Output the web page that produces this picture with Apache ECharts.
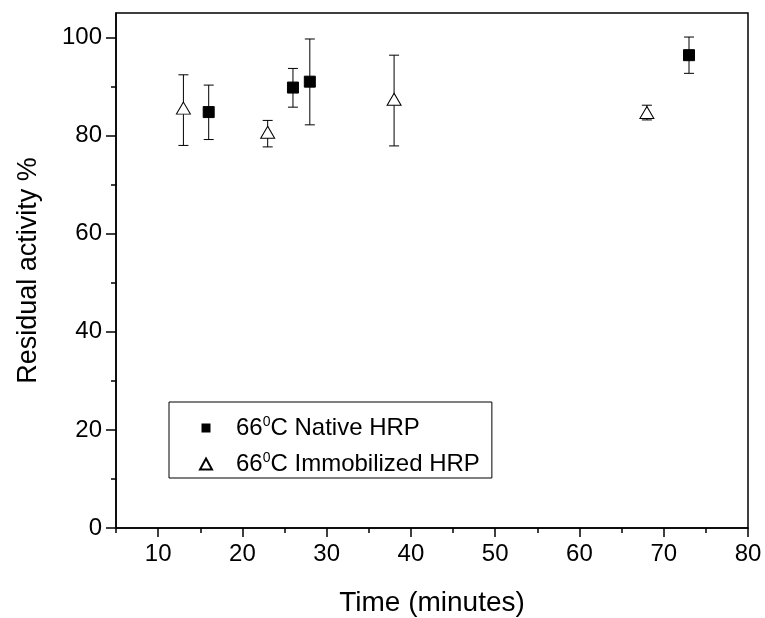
<!DOCTYPE html>
<html>
<head>
<meta charset="utf-8">
<script src="https://cdn.jsdelivr.net/npm/echarts@6/dist/echarts.min.js"></script>
<style>
html,body{margin:0;padding:0;background:#fff;}
#main{width:765px;height:618px;}
</style>
</head>
<body>
<div id="main"></div>
<script>
// ---- data ----
const nativeName = '66\u2070C Native HRP';
const immobName = '66\u2070C Immobilized HRP';
const nativeX = [16, 26, 28, 73];
const nativeY = [84.8, 89.8, 91.0, 96.4];
const nativeLow = [79.2, 85.8, 82.2, 92.7];
const nativeHigh = [90.3, 93.7, 99.7, 100.1];
const immobX = [13, 23, 38, 68];
const immobY = [85.6, 80.7, 87.4, 84.7];
const immobLow = [78.0, 77.7, 77.9, 83.2];
const immobHigh = [92.4, 83.1, 96.4, 86.2];
const xMajorTicks = [10, 20, 30, 40, 50, 60, 70, 80];
const xMinorTicks = [5, 15, 25, 35, 45, 55, 65, 75];
const yMajorTicks = [0, 20, 40, 60, 80, 100];
const yMinorTicks = [10, 30, 50, 70, 90];

const FONT = 'Arial, "Liberation Sans", sans-serif';

function pts(xs, ys) { return xs.map((x, i) => [x, ys[i]]); }
function errs(xs, lo, hi) { return xs.map((x, i) => [x, lo[i], hi[i]]); }

function errRender(params, api) {
  const x = api.value(0);
  const p1 = api.coord([x, api.value(1)]);
  const p2 = api.coord([x, api.value(2)]);
  const hw = 5;
  const st = { stroke: '#000', lineWidth: 1 };
  return {
    type: 'group',
    children: [
      { type: 'line', shape: { x1: p1[0], y1: p1[1], x2: p2[0], y2: p2[1] }, style: st },
      { type: 'line', shape: { x1: p1[0] - hw, y1: p1[1], x2: p1[0] + hw, y2: p1[1] }, style: st },
      { type: 'line', shape: { x1: p2[0] - hw, y1: p2[1], x2: p2[0] + hw, y2: p2[1] }, style: st }
    ]
  };
}

const chart = echarts.init(document.getElementById('main'), null, { renderer: 'canvas' });
const axisLineStyle = { color: '#000', width: 1.5 };

chart.setOption({
  animation: false,
  backgroundColor: '#fff',
  grid: {
    left: 116, right: 17, top: 13, bottom: 90,
    containLabel: false, outerBoundsMode: 'none',
    show: true, borderColor: '#000', borderWidth: 1.5, backgroundColor: 'transparent'
  },
  legend: {
    orient: 'vertical',
    left: 169, top: 402,
    data: [
      { name: nativeName, icon: 'path://M0,0 M2.5,2 L9.5,2 L9.5,9 L2.5,9 Z M12,11' },
      { name: immobName, icon: 'triangle' }
    ],
    borderColor: '#000', borderWidth: 1,
    padding: [13, 12, 1, 30],
    itemWidth: 12, itemHeight: 11, itemGap: 10,
    textStyle: {
      fontFamily: FONT, fontSize: 24, color: '#000', lineHeight: 26,
      rich: {
        sp: { width: 19, lineHeight: 26 },
        sup: { fontFamily: FONT, fontSize: 14, verticalAlign: 'top', lineHeight: 26, color: '#000', padding: [0, 0, 10, 0] }
      }
    },
    formatter: function (name) { return '{sp|}' + name.replace('\u2070', '{sup|0}'); }
  },
  xAxis: [{
    type: 'value', min: 5, max: 80, position: 'bottom',
    name: 'Time (minutes)', nameLocation: 'middle', nameGap: 61,
    nameTextStyle: { fontFamily: FONT, fontSize: 28, color: '#000' },
    axisLine: { show: true, lineStyle: axisLineStyle },
    axisTick: { show: true, inside: false, length: 9, customValues: xMajorTicks, lineStyle: axisLineStyle },
    axisLabel: { customValues: xMajorTicks, fontFamily: FONT, fontSize: 24, color: '#000', margin: 14 },
    splitLine: { show: false }
  }, {
    type: 'value', min: 5, max: 80, position: 'bottom', offset: 0,
    axisLine: { show: false },
    axisTick: { show: true, inside: false, length: 5, customValues: xMinorTicks, lineStyle: axisLineStyle },
    axisLabel: { show: false },
    splitLine: { show: false }
  }],
  yAxis: [{
    type: 'value', min: 0, max: 105, position: 'left',
    name: 'Residual activity %', nameLocation: 'middle', nameGap: 74,
    nameTextStyle: { fontFamily: FONT, fontSize: 27, color: '#000' },
    axisLine: { show: true, lineStyle: axisLineStyle },
    axisTick: { show: true, inside: false, length: 10, customValues: yMajorTicks, lineStyle: axisLineStyle },
    axisLabel: { customValues: yMajorTicks, fontFamily: FONT, fontSize: 24, color: '#000', margin: 14 },
    splitLine: { show: false }
  }, {
    type: 'value', min: 0, max: 105, position: 'left', offset: 0,
    axisLine: { show: false },
    axisTick: { show: true, inside: false, length: 5, customValues: yMinorTicks, lineStyle: axisLineStyle },
    axisLabel: { show: false },
    splitLine: { show: false }
  }],
  series: [
    {
      type: 'custom', name: 'errNative', renderItem: errRender, z: 2,
      data: errs(nativeX, nativeLow, nativeHigh), encode: { x: 0, y: [1, 2] }
    },
    {
      type: 'custom', name: 'errImmob', renderItem: errRender, z: 2,
      data: errs(immobX, immobLow, immobHigh), encode: { x: 0, y: [1, 2] }
    },
    {
      type: 'scatter', name: nativeName, symbol: 'rect', symbolSize: 11, z: 5,
      itemStyle: { color: '#000', borderColor: '#000', borderWidth: 1, opacity: 1 },
      data: pts(nativeX, nativeY)
    },
    {
      type: 'scatter', name: immobName, symbol: 'triangle', symbolSize: [14, 12], z: 5,
      itemStyle: { color: '#fff', borderColor: '#000', borderWidth: 1, opacity: 1 },
      data: pts(immobX, immobY)
    }
  ]
});
</script>
</body>
</html>
